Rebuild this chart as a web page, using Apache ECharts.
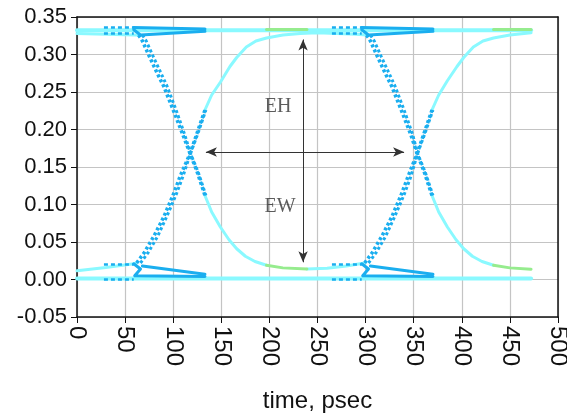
<!DOCTYPE html>
<html><head><meta charset="utf-8">
<script src="https://cdn.jsdelivr.net/npm/echarts@6/dist/echarts.min.js"></script>
<style>html,body{margin:0;padding:0;background:#fff}#c{width:567px;height:417px}</style>
</head><body><div id="c"></div>
<script>
// ---- tick labels / axis ----
const xTicks = [0,50,100,150,200,250,300,350,400,450,500];
const yTicks = [-0.05,0,0.05,0.10,0.15,0.20,0.25,0.30,0.35];

// ---- steady levels (light cyan) ----
const highT = [0, 472], highV = [0.3325, 0.3325];
const lowT  = [0, 472], lowV  = [0.0015, 0.0015];

// ---- trace A ----
const a1T=[0,30,60,64], a1V=[0.328,0.327,0.326,0.326];
const a2T=[64,68,75,83,90,100,110,117.5,125,133], a2V=[0.326,0.318,0.298,0.276,0.258,0.226,0.193,0.168,0.143,0.112];
const a2bT=[68,72,79,87,93.5,103,112,118,126,134], a2bV=[0.326,0.318,0.298,0.276,0.258,0.226,0.193,0.168,0.143,0.112];
const a3T=[133,140,149,158,166,175,185,197], a3V=[0.112,0.090,0.070,0.053,0.041,0.031,0.024,0.019];
const a4T=[197,214,239], a4V=[0.019,0.0155,0.014];
const a5T=[239,260,280,299], a5V=[0.014,0.015,0.018,0.022];
const a6T=[299,307,317,327,337,344,353.5,361,369], a6V=[0.022,0.036,0.058,0.083,0.113,0.137,0.168,0.196,0.226];
const a6bT=[303,311,321,330,340,347,354,362,370], a6bV=[0.022,0.036,0.058,0.083,0.113,0.137,0.168,0.196,0.226];
const a7T=[369,376,385,395,402,412,422,433,450,472], a7V=[0.226,0.246,0.265,0.284,0.296,0.310,0.318,0.322,0.326,0.329];

// ---- trace B ----
const b1T=[0,30,59,62], b1V=[0.0117,0.016,0.021,0.022];
const b2T=[62,70,80,90,100,107,117.5,125,133], b2V=[0.022,0.036,0.058,0.083,0.113,0.137,0.168,0.196,0.226];
const b2bT=[66,74,84,93,103,110,118,126,134], b2bV=[0.022,0.036,0.058,0.083,0.113,0.137,0.168,0.196,0.226];
const b3T=[133,140,149,159,166,176,186,197,214,232,250,270,290,301], b3V=[0.226,0.246,0.263,0.284,0.296,0.310,0.318,0.322,0.326,0.328,0.329,0.328,0.327,0.326];
const b4T=[301,305,312,320,327,337,347,353.5,361,369], b4V=[0.326,0.318,0.298,0.276,0.258,0.226,0.193,0.168,0.143,0.112];
const b4bT=[305,309,316,324,330.5,340,349,354,362,370], b4bV=[0.326,0.318,0.298,0.276,0.258,0.226,0.193,0.168,0.143,0.112];
const b5T=[369,376,385,394,402,411,421,433], b5V=[0.112,0.090,0.070,0.053,0.041,0.031,0.024,0.019];
const b6T=[433,450,472], b6V=[0.019,0.0155,0.0137];

// ---- green overlaps on top line ----
const g1T=[197,239], g1V=[0.3335,0.3335];
const g2T=[433,472], g2V=[0.3335,0.3335];

// ---- wedge / retrace segments (deep blue) ----
const wTopDash1T=[28,59], wTopDash1V=[0.336,0.336];
const wTopDash2T=[28,59], wTopDash2V=[0.328,0.328];
const wTop1T=[59,133], wTop1V=[0.336,0.334];
const wTop2T=[59,66,133], wTop2V=[0.333,0.326,0.331];
const wBotDash1T=[28,59], wBotDash1V=[0.020,0.020];
const wBotDash2T=[28,59], wBotDash2V=[0.0,0.0];
const wBot1T=[59,66,60,133], wBot1V=[0.021,0.014,0.005,0.004];
const wBot2T=[68,133], wBot2V=[0.018,0.007];
const wTopDash3T=[265,296], wTopDash3V=[0.336,0.336];
const wTopDash4T=[265,296], wTopDash4V=[0.328,0.328];
const wTop3T=[296,370], wTop3V=[0.336,0.334];
const wTop4T=[296,303,370], wTop4V=[0.333,0.326,0.331];
const wBotDash3T=[265,296], wBotDash3V=[0.020,0.020];
const wBotDash4T=[265,296], wBotDash4V=[0.0,0.0];
const wBot3T=[296,303,297,370], wBot3V=[0.021,0.014,0.005,0.004];
const wBot4T=[305,370], wBot4V=[0.018,0.007];

// ---- annotations ----
const ehArrowT=[235,235], ehArrowV=[0.320,0.023];
const ewArrowT=[134,340], ewArrowV=[0.170,0.170];
const labels = [{name:'EH', t:209, v:0.230},{name:'EW', t:211, v:0.097}];

const CY='#8AF9FF', DB='#1AAEEF', GR='#96EC8E';
const pts=(t,v)=>t.map((x,i)=>[x,v[i]]);
function ln(t,v,color,width,dash){
  return {type:'line',data:pts(t,v),showSymbol:false,symbol:'none',silent:true,
    lineStyle:{color:color,width:width,type:dash||'solid',cap:dash?'butt':'round',join:'round'},z:dash?4:3};
}
const DOT=[3,2.5], DASH=[4,3];
const series=[
  ln(highT,highV,CY,4), ln(lowT,lowV,CY,4),
  ln(a1T,a1V,CY,3), ln(b1T,b1V,CY,3),
  ln(a3T,a3V,CY,3), ln(a5T,a5V,CY,3), ln(a7T,a7V,CY,3),
  ln(b3T,b3V,CY,3), ln(b5T,b5V,CY,3),
  ln(a4T,a4V,GR,3), ln(b6T,b6V,GR,3), ln(g1T,g1V,GR,3), ln(g2T,g2V,GR,3),
  ln(a2T,a2V,DB,3.5,DOT), ln(a2bT,a2bV,DB,3,DOT),
  ln(b2T,b2V,DB,3.5,DOT), ln(b2bT,b2bV,DB,3,DOT),
  ln(a6T,a6V,DB,3.5,DOT), ln(a6bT,a6bV,DB,3,DOT),
  ln(b4T,b4V,DB,3.5,DOT), ln(b4bT,b4bV,DB,3,DOT),
  ln(wTopDash1T,wTopDash1V,DB,2.5,DASH), ln(wTopDash2T,wTopDash2V,DB,2.5,DASH),
  ln(wTop1T,wTop1V,DB,3), ln(wTop2T,wTop2V,DB,3),
  ln(wBotDash1T,wBotDash1V,DB,2.5,DASH), ln(wBotDash2T,wBotDash2V,DB,2.5,DASH),
  ln(wBot1T,wBot1V,DB,3), ln(wBot2T,wBot2V,DB,3),
  ln(wTopDash3T,wTopDash3V,DB,2.5,DASH), ln(wTopDash4T,wTopDash4V,DB,2.5,DASH),
  ln(wTop3T,wTop3V,DB,3), ln(wTop4T,wTop4V,DB,3),
  ln(wBotDash3T,wBotDash3V,DB,2.5,DASH), ln(wBotDash4T,wBotDash4V,DB,2.5,DASH),
  ln(wBot3T,wBot3V,DB,3), ln(wBot4T,wBot4V,DB,3),
  {type:'scatter',data:labels.map(d=>({name:d.name,value:[d.t,d.v]})),symbolSize:0,silent:true,z:7,
   label:{show:true,position:'inside',formatter:'{b}',color:'#333',fontFamily:'Liberation Serif',fontSize:20}},
  {type:'line',data:[],silent:true,z:6,
   markLine:{silent:true,symbol:['arrow','arrow'],symbolSize:[7,11],label:{show:false},
     lineStyle:{color:'#333',width:1,type:'solid'},
     data:[[{coord:[ewArrowT[0],ewArrowV[0]]},{coord:[ewArrowT[1],ewArrowV[1]]}],
           [{coord:[ehArrowT[0],ehArrowV[0]]},{coord:[ehArrowT[1],ehArrowV[1]]}]]}}
];

const axisBase={type:'value',min:xTicks[0],max:xTicks[xTicks.length-1],interval:50};
const chart=echarts.init(document.getElementById('c'),null,{renderer:'canvas'});
chart.setOption({
  animation:false,
  grid:{left:77,right:9,top:17,bottom:100,containLabel:false,outerBoundsMode:'none'},
  xAxis:[Object.assign({},axisBase,{
    name:'time, psec',nameLocation:'middle',nameGap:72,
    nameTextStyle:{fontFamily:'Liberation Sans',fontSize:24,color:'#111'},
    axisLine:{show:true,onZero:false,lineStyle:{color:'#111',width:1.5}},
    axisTick:{show:true,length:6,lineStyle:{color:'#111'}},
    axisLabel:{rotate:-90,margin:9,fontFamily:'Liberation Sans',fontSize:24,color:'#111'},
    splitLine:{show:true,lineStyle:{color:'#c4c4c4',width:1.2}}}),
    Object.assign({},axisBase,{position:'top',axisLine:{show:true,onZero:false,lineStyle:{color:'#111',width:1.5}},
    axisTick:{show:false},axisLabel:{show:false},splitLine:{show:false}})],
  yAxis:[{type:'value',min:yTicks[0],max:yTicks[yTicks.length-1],interval:0.05,
    axisLine:{show:true,onZero:false,lineStyle:{color:'#111',width:1.5}},
    axisTick:{show:true,length:6,lineStyle:{color:'#111'}},
    axisLabel:{margin:10,fontFamily:'Liberation Sans',fontSize:22,color:'#111',
      formatter:v=>v.toFixed(2)},
    splitLine:{show:true,lineStyle:{color:'#c4c4c4',width:1.2}}},
    {type:'value',min:yTicks[0],max:yTicks[yTicks.length-1],interval:0.05,position:'right',
    axisLine:{show:true,onZero:false,lineStyle:{color:'#111',width:1.5}},
    axisTick:{show:false},axisLabel:{show:false},splitLine:{show:false}}],
  series:series
});
</script></body></html>
